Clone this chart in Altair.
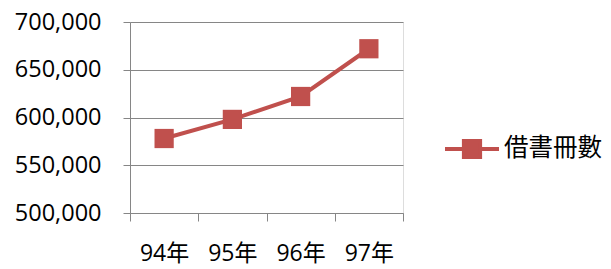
import altair as alt
import pandas as pd

years = ["94年", "95年", "96年", "97年"]
counts = [578000, 598000, 622000, 672000]
series = ["借書冊數"] * 4

df = pd.DataFrame({"year": years, "count": counts, "series": series})

RED = "#C0504D"
GRID = "#868686"
FONT = "Open Sans, Noto Sans CJK TC"

legend_path = "M-1,0H-0.3M0.3,0H1M-0.3,-0.3H0.3V0.3H-0.3Z"

chart = alt.Chart(df).mark_line(
    strokeWidth=4,
    point=alt.OverlayMarkDef(shape="square", size=370, filled=True, color=RED, opacity=1),
).encode(
    x=alt.X("year:N", sort=years, title=None,
            scale=alt.Scale(type="band", paddingInner=0, paddingOuter=0),
            axis=alt.Axis(labelAngle=0, tickBand="extent", tickSize=8, labelPadding=21,
                          domainColor=GRID, tickColor=GRID, labelFontSize=23,
                          labelFont=FONT, labelColor="#000000", grid=False)),
    y=alt.Y("count:Q", title=None,
            scale=alt.Scale(domain=[500000, 700000], nice=False, zero=False),
            axis=alt.Axis(values=[500000, 550000, 600000, 650000, 700000], format=",d",
                          tickSize=7, labelPadding=22, domainColor=GRID, tickColor=GRID,
                          gridColor=GRID, labelFontSize=23.5, labelFont=FONT,
                          labelColor="#000000")),
    color=alt.Color("series:N", scale=alt.Scale(range=[RED]),
                    legend=alt.Legend(title=None, orient="none", legendX=313, legendY=98,
                                      symbolType=legend_path, symbolSize=2916,
                                      symbolStrokeWidth=4, symbolFillColor=RED,
                                      symbolStrokeColor=RED, labelFontSize=24.5,
                                      labelFont=FONT, labelColor="#000000",
                                      labelOffset=3, padding=0)),
).properties(
    width=273, height=191,
    autosize=alt.AutoSizeParams(type="none"),
    padding={"left": 122, "top": 14, "right": 200, "bottom": 55},
).configure_view(stroke=None).configure(background="white")

chart.save("out.html", embed_options={"renderer": "svg", "actions": False})
